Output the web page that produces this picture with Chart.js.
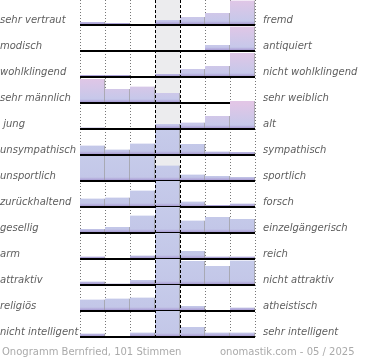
<!DOCTYPE html>
<html>
<head>
<meta charset="utf-8">
<script src="https://cdn.jsdelivr.net/npm/chart.js@4.4.1/dist/chart.umd.min.js"></script>
<style>
  html, body { margin: 0; padding: 0; background: #fff; }
  #wrap { position: relative; width: 370px; height: 360px; }
  .foot { position: absolute; top: 346px; font: 10px "DejaVu Sans", sans-serif; color: #aaa; white-space: nowrap; }
</style>
</head>
<body>
<div id="wrap">
  <canvas id="chart" width="370" height="360"></canvas>
  <div class="foot" style="left:2px">Onogramm Bernfried, 101 Stimmen</div>
  <div class="foot" style="left:220px">onomastik.com - 05 / 2025</div>
</div>
<script>
const columns = ['1', '2', '3', '4', '5', '6', '7'];

const leftLabels = ['sehr vertraut', 'modisch', 'wohlklingend', 'sehr männlich', ' jung', 'unsympathisch',
    'unsportlich', 'zurückhaltend', 'gesellig', 'arm', 'attraktiv', 'religiös', 'nicht intelligent'];
const rightLabels = ['fremd', 'antiquiert', 'nicht wohlklingend', 'sehr weiblich', 'alt', 'sympathisch',
    'sportlich', 'forsch', 'einzelgängerisch', 'reich', 'nicht attraktiv', 'atheistisch', 'sehr intelligent'];

// bar heights per row (one row = 26)
const rowValues = [
    [3, 2, 0, 5, 8, 12, 24.5],
    [0, 0, 0, 0, 0, 6, 24.5],
    [2, 2, 0, 3, 8, 11, 24],
    [24, 14, 16.5, 10, 0, 0, 0],
    [1.5, 0, 0, 5, 6.5, 13, 28],
    [9.5, 5.5, 11.5, 25, 11, 3.5, 3],
    [25, 25, 25, 15.5, 6.5, 5, 4],
    [8.5, 9.5, 16.5, 26, 5.5, 2, 3.5],
    [4, 6, 17.5, 26, 12.5, 16, 14],
    [2.5, 0, 3.5, 26, 8, 2.5, 2.5],
    [3.5, 1.5, 5, 26, 24, 19, 24.5],
    [11.5, 12.5, 13.5, 26, 5, 0, 3.5],
    [3.5, 0, 4.5, 26, 10, 4.5, 4.5]
];

const ROW = 26;
const nRows = rowValues.length;
const yMax = (nRows - 1) * ROW + 25;
const baseOf = r => (nRows - 1 - r) * ROW;

function barFill(c, r) {
    const chart = c.chart;
    if (!chart.chartArea || !c.raw) return '#c5cae9';
    const y = chart.scales.y;
    const bot = y.getPixelForValue(c.raw[0]);
    const rowTop = y.getPixelForValue(c.raw[0] + ROW);
    const g = chart.ctx.createLinearGradient(0, rowTop, 0, bot);
    if (r < 5) {
        g.addColorStop(0, '#e2c6e6');
        g.addColorStop(0.85, '#c6c8ea');
    } else {
        g.addColorStop(0, '#c6cbea');
        g.addColorStop(0.85, '#c3c7e8');
    }
    g.addColorStop(0.92, '#b4acdc');
    g.addColorStop(1, '#9d8fca');
    return g;
}

const datasets = rowValues.map((vals, r) => ({
    data: vals.map(v => v > 0 ? [baseOf(r), baseOf(r) + v] : null),
    order: nRows - 1 - r,
    backgroundColor: c => barFill(c, r),
    borderColor: '#9a9a9a',
    borderWidth: { top: 0, right: 1, bottom: 0, left: 0 },
    borderSkipped: false,
    grouped: false,
    categoryPercentage: 1,
    barPercentage: 1
}));

// one label per row, lowest row first
const rowTicks = scale => {
    scale.ticks = rowValues.map((v, r) => ({ value: baseOf(nRows - 1 - r) + 5 }));
};
const fitAxis = width => s => {
    s.width = width;
    s.paddingTop = 0;
    s.paddingBottom = 0;
};
const labelFont = { family: 'DejaVu Sans', size: 10, style: 'italic' };

const gridPlugin = {
    id: 'grid',
    beforeDatasetsDraw(chart) {
        const { ctx, chartArea: a } = chart;
        const w = (a.right - a.left) / columns.length;
        ctx.save();
        ctx.fillStyle = '#ececee';
        ctx.fillRect(a.left + 3 * w, 0, w, a.bottom);
        ctx.strokeStyle = '#777';
        ctx.lineWidth = 1;
        ctx.setLineDash([1, 2]);
        [0, 1, 2, 5, 6, 7].forEach(i => {
            const x = Math.round(a.left + i * w) + 0.5;
            ctx.beginPath(); ctx.moveTo(x, 0); ctx.lineTo(x, a.bottom); ctx.stroke();
        });
        ctx.restore();
    },
    afterDatasetDraw(chart, args) {
        const { ctx, chartArea: a } = chart;
        const y = chart.scales.y.getPixelForValue(baseOf(args.index));
        ctx.save();
        ctx.strokeStyle = '#000';
        ctx.lineWidth = 2;
        ctx.beginPath(); ctx.moveTo(a.left, y); ctx.lineTo(a.right, y); ctx.stroke();
        ctx.restore();
    },
    afterDatasetsDraw(chart) {
        const { ctx, chartArea: a } = chart;
        const w = (a.right - a.left) / columns.length;
        ctx.save();
        ctx.strokeStyle = '#000';
        ctx.lineWidth = 1;
        ctx.setLineDash([3, 2]);
        [3, 4].forEach(i => {
            const x = Math.round(a.left + i * w) + 0.5;
            ctx.beginPath(); ctx.moveTo(x, 0); ctx.lineTo(x, a.bottom); ctx.stroke();
        });
        ctx.restore();
    }
};

new Chart(document.getElementById('chart'), {
    type: 'bar',
    data: { labels: columns, datasets: datasets },
    plugins: [gridPlugin],
    options: {
        responsive: false,
        animation: false,
        layout: { padding: { top: 0, bottom: 360 - 337, left: 0, right: 0 } },
        plugins: { legend: { display: false }, tooltip: { enabled: false } },
        scales: {
            x: { display: false, offset: true },
            y: {
                position: 'left',
                min: 0,
                max: yMax,
                afterFit: fitAxis(80),
                afterBuildTicks: rowTicks,
                grid: { display: false, drawTicks: false },
                border: { display: false },
                ticks: {
                    autoSkip: false,
                    crossAlign: 'far',
                    padding: 0,
                    color: '#5e5e5e',
                    font: labelFont,
                    callback: (v, i) => leftLabels[nRows - 1 - i]
                }
            },
            y2: {
                position: 'right',
                min: 0,
                max: yMax,
                afterFit: fitAxis(115),
                afterBuildTicks: rowTicks,
                grid: { display: false, drawTicks: false },
                border: { display: false },
                ticks: {
                    autoSkip: false,
                    crossAlign: 'near',
                    padding: 8,
                    color: '#5e5e5e',
                    font: labelFont,
                    callback: (v, i) => rightLabels[nRows - 1 - i]
                }
            }
        }
    }
});
</script>
</body>
</html>
